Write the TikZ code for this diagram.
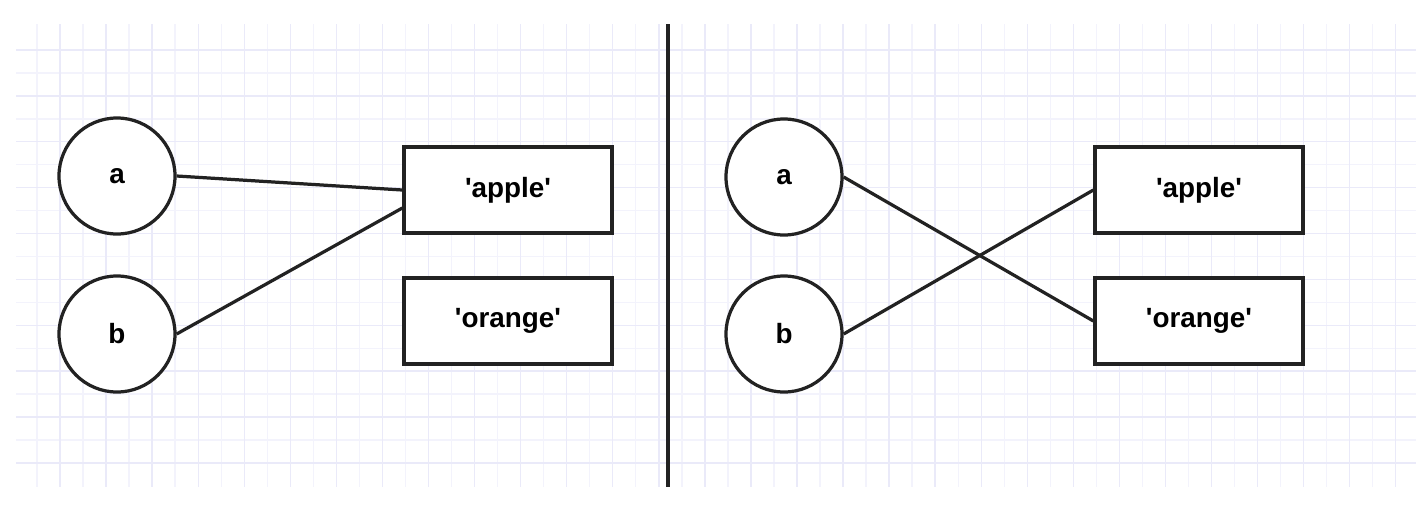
\documentclass[tikz,border=0pt]{standalone}
\usepackage{fontspec}
\setmainfont{Liberation Sans}
\definecolor{gridminor}{RGB}{243,243,252}
\definecolor{gridmajor}{RGB}{234,234,249}
\definecolor{ink}{RGB}{34,34,34}
\tikzset{
  var/.style={circle, draw=ink, line width=2.3pt, fill=white, minimum size=2.9cm,
    font=\fontsize{19.8}{24}\selectfont\bfseries},
  val/.style={rectangle, draw=ink, line width=2.3pt, fill=white, minimum width=5.2cm,
    minimum height=2.15cm, font=\fontsize{19.8}{24}\selectfont\bfseries},
  ref/.style={draw=ink, line width=2.3pt}
}
\newcommand{\sq}{\textquotesingle}
\begin{document}
\begin{tikzpicture}[x=0.025cm, y=-0.025cm]
    \useasboundingbox (0,0) rectangle (1424,514);
    \fill[white] (0,0) rectangle (1424,514);

    \begin{scope}
      \clip (16,24) rectangle (1416,487);
      \foreach \i in {0,...,59}
        \draw[gridminor, line width=1pt] ({37+23.03*\i},24) -- ({37+23.03*\i},487);
      \foreach \k in {0,...,18}
        \draw[gridminor, line width=1pt] (16,{50+22.94*\k}) -- (1416,{50+22.94*\k});
      \foreach \i in {1,3,...,59}
        \draw[gridmajor, line width=1pt] ({37+23.03*\i},24) -- ({37+23.03*\i},487);
      \foreach \k in {0,2,...,18}
        \draw[gridmajor, line width=1pt] (16,{50+22.94*\k}) -- (1416,{50+22.94*\k});
    \end{scope}

    \draw[ink, line width=2.8pt] (668,24) -- (668,487);

    % left: a and b share 'apple'
    \node[var] (la) at (117,176) {a};
    \node[var] (lb) at (117,334) {b};
    \node[val] (lapple) at (508,190) {\sq apple\sq};
    \node[val] (lorange) at (508,321) {\sq orange\sq};

    \draw[ref] (la.east) -- (lapple.west);
    \draw[ref] (lb.east) -- ([yshift=-0.45cm]lapple.west);

    % right: a and b swapped
    \node[var] (ra) at (784,177) {a};
    \node[var] (rb) at (784,334) {b};
    \node[val] (rapple) at (1199,190) {\sq apple\sq};
    \node[val] (rorange) at (1199,321) {\sq orange\sq};

    \draw[ref] (ra.east) -- (rorange.west);
    \draw[ref] (rb.east) -- (rapple.west);
\end{tikzpicture}
\end{document}
